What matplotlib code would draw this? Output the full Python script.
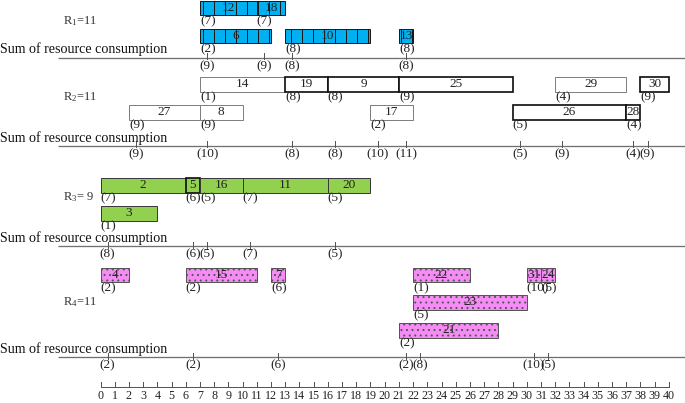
import matplotlib
matplotlib.use('Agg')
import matplotlib.pyplot as plt

# ---------------- data ----------------
# Resource 1
r1_ids = [12, 18, 6, 10, 13]
r1_start = [7, 11, 7, 13, 21]
r1_end = [11, 13, 12, 19, 22]
r1_demand = [7, 7, 2, 8, 8]
r1_row = [0, 0, 1, 1, 1]
r1_sum_t = [7, 11, 13, 21]
r1_sum_v = [9, 9, 8, 8]

# Resource 2
r2_ids = [14, 19, 9, 25, 29, 30, 27, 8, 17, 26, 28]
r2_start = [7, 13, 16, 21, 32, 38, 2, 7, 19, 29, 37]
r2_end = [13, 16, 21, 29, 37, 40, 7, 10, 22, 37, 38]
r2_demand = [1, 8, 8, 9, 4, 9, 9, 9, 2, 5, 4]
r2_row = [0, 0, 0, 0, 0, 0, 1, 1, 1, 1, 1]
r2_sum_t = [2, 7, 13, 16, 19, 21, 29, 32, 37, 38]
r2_sum_v = [9, 10, 8, 8, 10, 11, 5, 9, 4, 9]

# Resource 3
r3_ids = [2, 5, 16, 11, 20, 3]
r3_start = [0, 6, 7, 10, 16, 0]
r3_end = [6, 7, 10, 16, 19, 4]
r3_demand = [7, 6, 5, 7, 5, 1]
r3_row = [0, 0, 0, 0, 0, 1]
r3_sum_t = [0, 6, 7, 10, 16]
r3_sum_v = [8, 6, 5, 7, 5]

# Resource 4
r4_ids = [4, 15, 7, 22, 31, 24, 23, 21]
r4_start = [0, 6, 12, 22, 30, 31, 22, 21]
r4_end = [2, 11, 13, 26, 31, 32, 30, 28]
r4_demand = [2, 2, 6, 1, 10, 5, 5, 2]
r4_row = [0, 0, 0, 0, 0, 0, 1, 2]
r4_sum_t = [0, 6, 12, 21, 22, 30, 31]
r4_sum_v = [2, 2, 6, 2, 8, 10, 5]

cap_labels = ['R$_1$=11', 'R$_2$=11', 'R$_3$= 9', 'R$_4$=11']
sum_label = 'Sum of resource consumption'
time_ticks = list(range(0, 41))

# ---------------- style / layout ----------------
DPI = 66
W, H = 685, 403
PT = 72.0 / DPI  # pixels -> points

plt.rcParams['font.family'] = ['Liberation Serif', 'DejaVu Serif']
plt.rcParams['mathtext.fontset'] = 'custom'
plt.rcParams['mathtext.rm'] = 'Liberation Serif'
plt.rcParams['mathtext.it'] = 'Liberation Serif:italic'
plt.rcParams['hatch.linewidth'] = 1.0 * PT

FS = 13.3 * PT      # bar / value text size (px -> pt)
FS_SUM = 14.0 * PT
FS_AX = 12.0 * PT
FS_CAP = 12.5 * PT

X0_PX = 100.5
UNIT_PX = 14.21

resources = [
    dict(ids=r1_ids, start=r1_start, end=r1_end, dem=r1_demand, row=r1_row,
         st=r1_sum_t, sv=r1_sum_v, face='#00B0F0', edge='#1a1a1a', hatch='|',
         row_tops=[0.5, 28.5], cap_y=21, sum_y=49, line_y=57.5),
    dict(ids=r2_ids, start=r2_start, end=r2_end, dem=r2_demand, row=r2_row,
         st=r2_sum_t, sv=r2_sum_v, face='white', edge='#808080', hatch=None,
         row_tops=[77, 105], cap_y=97, sum_y=138, line_y=145.5),
    dict(ids=r3_ids, start=r3_start, end=r3_end, dem=r3_demand, row=r3_row,
         st=r3_sum_t, sv=r3_sum_v, face='#92D050', edge='#3a3a3a', hatch=None,
         row_tops=[178, 206], cap_y=197, sum_y=238, line_y=246),
    dict(ids=r4_ids, start=r4_start, end=r4_end, dem=r4_demand, row=r4_row,
         st=r4_sum_t, sv=r4_sum_v, face='#F58CF5', edge='#555555', hatch='..',
         row_tops=[267.5, 295, 323], cap_y=302, sum_y=349, line_y=357),
]
dark_edge = {2: {19, 9, 25, 30, 26, 28}, 3: {5}}
BAR_H = 14.5

fig = plt.figure(figsize=(W / DPI, H / DPI), dpi=DPI)
ax = fig.add_axes([0, 0, 1, 1])
ax.set_xlim(-X0_PX / UNIT_PX, (W - X0_PX) / UNIT_PX)
ax.set_ylim(H, 0)
ax.axis('off')

for k, r in enumerate(resources):
    ridx = k + 1
    for tid, s, e, d, rw in zip(r['ids'], r['start'], r['end'], r['dem'], r['row']):
        top = r['row_tops'][rw]
        ec = r['edge']
        lw = 1.0
        if tid in dark_edge.get(ridx, set()):
            ec = '#111111'
            lw = 1.7
        ax.barh(top + BAR_H / 2, e - s, left=s, height=BAR_H, color=r['face'],
                edgecolor=ec, linewidth=lw * PT, hatch=r['hatch'], zorder=2)
        ax.text((s + e) / 2, top + BAR_H / 2, str(tid), ha='center', va='center',
                fontsize=FS, color='#222222', zorder=3)
        ax.text(s, top + BAR_H + 6, '(%d)' % d, ha='left', va='center',
                fontsize=FS, color='#222222', zorder=3)
    # capacity label
    ax.text(-2.64, r['cap_y'], cap_labels[k], ha='left', va='center',
            fontsize=FS_CAP, color='#333333')
    # sum label and line
    ax.text(-7.05, r['sum_y'], sum_label, ha='left', va='center',
            fontsize=FS_SUM, color='#111111')
    ly = r['line_y']
    ax.plot([-3.0, (W - X0_PX) / UNIT_PX], [ly, ly], color='#707070',
            linewidth=1.3 * PT, solid_capstyle='butt', zorder=1)
    for t, v in zip(r['st'], r['sv']):
        tx = t + 0.5
        ax.plot([tx, tx], [ly - 4.5, ly + 1.5], color='#555555',
                linewidth=1.0 * PT, zorder=1)
        ax.text(tx, ly + 8.5, '(%d)' % v, ha='center', va='center',
                fontsize=FS, color='#222222')

# bottom time axis
AX_Y = 387
ax.plot([time_ticks[0], time_ticks[-1]], [AX_Y, AX_Y], color='#555555',
        linewidth=1.0 * PT, solid_capstyle='butt')
for t in time_ticks:
    ax.plot([t, t], [AX_Y, AX_Y - 5], color='#555555', linewidth=1.0 * PT)
    ax.text(t, AX_Y + 9, str(t), ha='center', va='center', fontsize=FS_AX,
            color='#222222')

fig.savefig('out.png', dpi=DPI)
